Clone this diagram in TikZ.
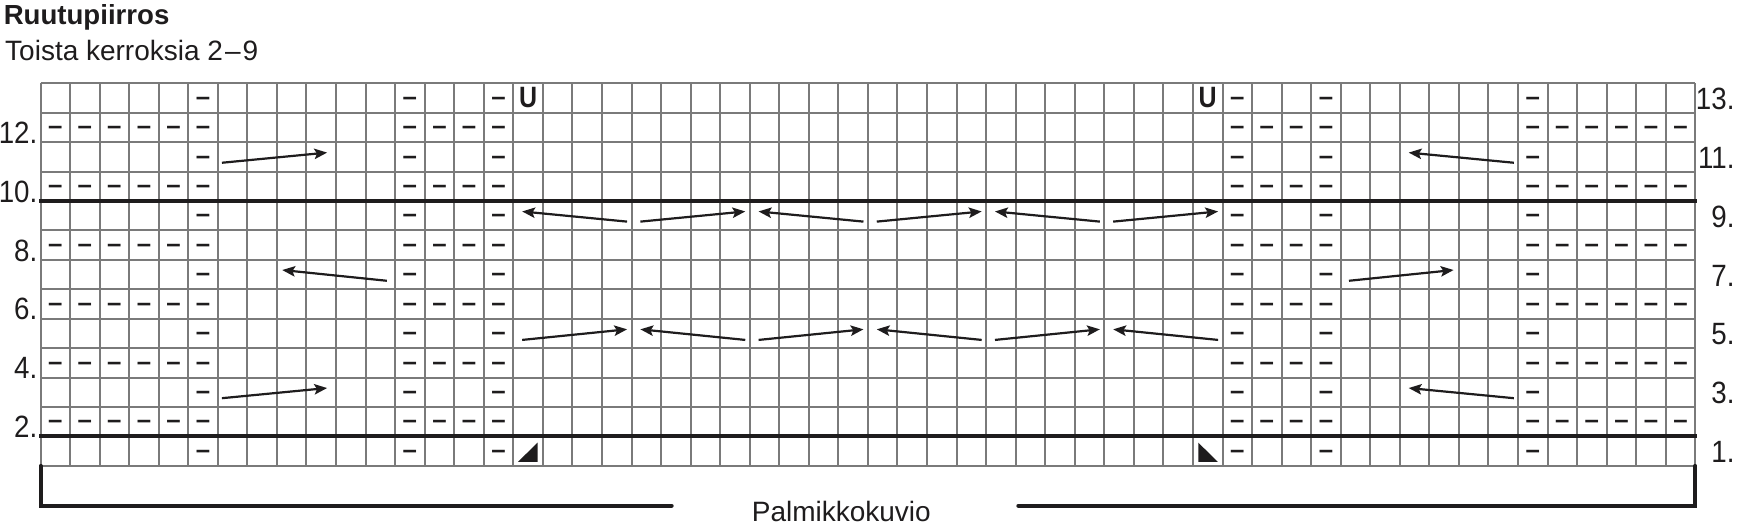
\documentclass[tikz,border=0pt]{standalone}
\usepackage{fontspec}
\setmainfont{Liberation Sans}
\newfontfamily\labelfont[FakeStretch=0.9]{Liberation Sans}
\newfontfamily\symbolfont[FakeStretch=0.85]{Liberation Sans}
\usetikzlibrary{arrows.meta, positioning}
\definecolor{gridgray}{RGB}{122,122,122}
\definecolor{inkblack}{RGB}{30,28,29}

\begin{document}
\begin{tikzpicture}[
    x=14.775pt, y=14.715pt,
    gridline/.style={draw=gridgray, line width=1pt},
    rowline/.style={draw=inkblack, line width=2pt, line cap=rect},
    bracket/.style={draw=inkblack, line width=2pt, line cap=round},
    purl/.style={font=\bfseries\fontsize{12.9}{13}\selectfont, text=inkblack, inner sep=0pt, anchor=base, yshift=-3.6pt},
    ustitch/.style={font=\symbolfont\bfseries\fontsize{14.7}{15}\selectfont, text=inkblack, inner sep=0pt},
    corner/.style={fill=inkblack, draw=none},
    cable/.style={-{Stealth[length=6.4pt, width=5.2pt, inset=1.3pt]}, line width=1.1pt, inkblack},
    rowlabel/.style={font=\labelfont\fontsize{15.4}{16}\selectfont, text=inkblack, inner sep=0pt},
    headtext/.style={font=\bfseries\fontsize{13.8}{15}\selectfont, text=inkblack, inner sep=0pt, anchor=base west},
    subtext/.style={font=\fontsize{14}{16}\selectfont, text=inkblack, inner sep=0pt, anchor=base west}
]
    \useasboundingbox (-1.3706,-2.008) rectangle (57.445,15.830);

    % Headings
    \node[headtext] (heading) at (-1.256,14.981) {Ruutupiirros};
    \node[subtext] (repeat) at (-1.208,13.758) {Toista kerroksia 2\kern1pt--\kern1pt9};

    % Grid
    \foreach \c in {0,...,56}
        \draw[gridline] (\c,0) -- (\c,13);
    \foreach \r in {0,...,13}
        \draw[gridline] (0,\r) -- (56,\r);

    % Repeat borders
    \draw[rowline] (0,9) -- (56,9);
    \draw[rowline] (0,1) -- (56,1);

    % Purl stitches
    \foreach \r in {1,3,...,13}
        \foreach \c in {6,13,16,41,44,51}
            \node[purl] (p-\c-\r) at (\c-0.5,\r-0.5) {–};
    \foreach \r in {2,4,...,12}
        \foreach \c in {1,2,3,4,5,6,13,14,15,16,41,42,43,44,51,52,53,54,55,56}
            \node[purl] (p-\c-\r) at (\c-0.5,\r-0.5) {–};

    % Special stitches
    \node[ustitch] (u-left) at (16.5,12.5) {U};
    \node[ustitch] (u-right) at (39.5,12.5) {U};
    \fill[corner] (16.155,0.133) -- (16.82,0.133) -- (16.82,0.79) -- cycle;
    \fill[corner] (39.18,0.79) -- (39.18,0.133) -- (39.845,0.133) -- cycle;

    % Side cables
    \foreach \r in {3,11} {
        \draw[cable] (6.14,\r-0.70) -- (9.70,\r-0.355);
        \draw[cable] (49.86,\r-0.70) -- (46.30,\r-0.355);
    }
    \draw[cable] (11.72,6.29) -- (8.18,6.655);
    \draw[cable] (44.28,6.29) -- (47.82,6.655);

    % Middle cables
    \foreach \k in {0,2,4} {
        \draw[cable] (16+4*\k+3.85,8.30) -- (16+4*\k+0.30,8.645);
        \draw[cable] (16+4*\k+0.30,4.28) -- (16+4*\k+3.85,4.64);
    }
    \foreach \k in {1,3,5} {
        \draw[cable] (16+4*\k+0.30,8.30) -- (16+4*\k+3.85,8.645);
        \draw[cable] (16+4*\k+3.85,4.28) -- (16+4*\k+0.30,4.64);
    }

    % Row numbers
    \foreach \r in {2,4,...,12}
        \node[rowlabel, anchor=base east] (left-\r) at (-0.095,\r-1.04) {\r.};
    \foreach \r in {1,3,...,13}
        \node[rowlabel, anchor=east] (right-\r) at (57.34,\r-0.53) {\r.};

    % Pattern bracket
    \node[subtext, anchor=base] (pattern) at (27.10,-1.896) {Palmikkokuvio};
    \draw[bracket] (21.36,-1.352) -- (0,-1.352) -- (0,0);
    \draw[bracket] (33.09,-1.352) -- (56,-1.352) -- (56,0);

\end{tikzpicture}
\end{document}
